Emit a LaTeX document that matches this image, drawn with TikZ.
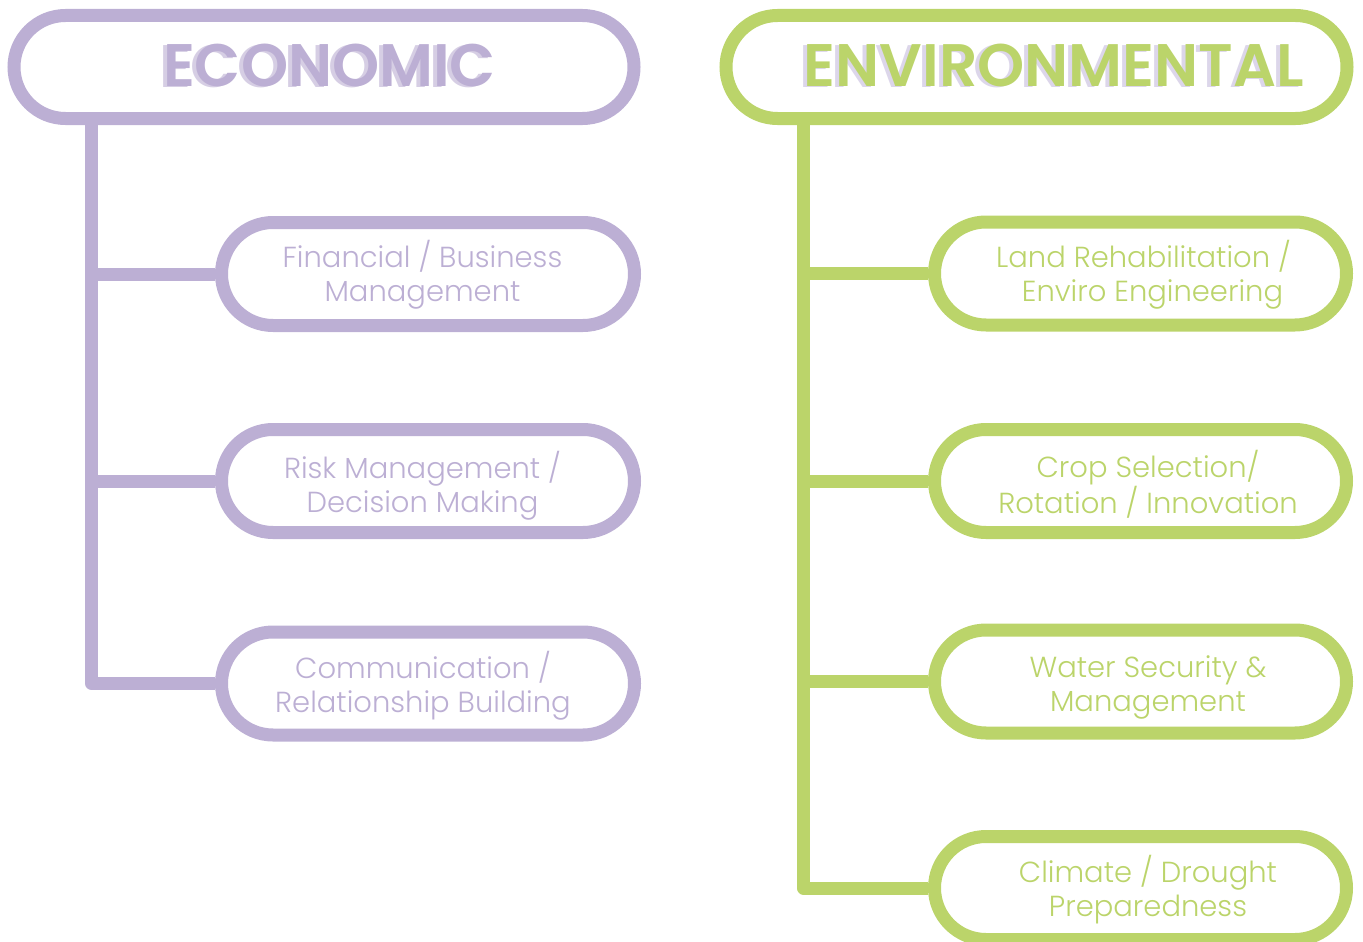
\documentclass[tikz,border=0pt]{standalone}
\usepackage{fontspec}
\newfontfamily\bodyfont{Poppins}[UprightFont=* Light]
\newfontfamily\titlefont{Poppins}[UprightFont=* SemiBold]
\usetikzlibrary{shapes.misc}
\definecolor{econ}{HTML}{BCAFD4}
\definecolor{econshadow}{HTML}{D6CEE4}
\definecolor{env}{HTML}{BBD46A}
\definecolor{envshadow}{HTML}{DCD6EA}
\newcommand{\shadowed}[2]{\makebox[0pt][l]{\raisebox{-1pt}{\textcolor{#1}{#2}}}\hspace*{4pt}#2}
\tikzset{
  pill/.style={rounded rectangle, draw=#1, line width=13pt, minimum height=103pt, inner sep=0pt, fill=white},
  conn/.style={draw=#1, line width=13pt, line join=round},
  body/.style={font=\bodyfont\fontsize{29}{34}\selectfont, align=center, text=#1, inner sep=0pt},
  titletext/.style={font=\titlefont\fontsize{60}{60}\selectfont, text=#1, anchor=base, inner sep=0pt},
}
\begin{document}
\begin{tikzpicture}[x=1pt,y=-1pt]
\useasboundingbox (0,0) rectangle (1363,942);
% ---------- Economic ----------
\node[pill=econ, minimum width=620pt] (econ) at (324,67) {};
\node[pill=econ, minimum width=413pt] (fin) at (428,274) {};
\node[pill=econ, minimum width=413pt] (risk) at (428,481) {};
\node[pill=econ, minimum width=413pt] (comm) at (428,683.5) {};
\coordinate (etx) at (91.5,0);
\draw[conn=econ] (econ.south -| etx) |- (comm.west);
\draw[conn=econ] (fin.west -| etx) -- (fin.west);
\draw[conn=econ] (risk.west -| etx) -- (risk.west);
\node[titletext=econ] (econt) at (327.5,87) {\shadowed{econshadow}{ECONOMIC}};
\node[body=econ] (fint) at (422.5,275) {Financial / Business\\Management};
\node[body=econ] (riskt) at (422.5,486) {Risk Management /\\Decision Making};
\node[body=econ] (commt) at (423,685.5) {Communication /\\Relationship Building};
% ---------- Environmental ----------
\node[pill=env, minimum width=621pt] (envi) at (1036.5,67) {};
\node[pill=env, minimum width=412pt] (land) at (1140.5,273.5) {};
\node[pill=env, minimum width=412pt] (crop) at (1140.5,481) {};
\node[pill=env, minimum width=412pt] (water) at (1140.5,681.5) {};
\node[pill=env, minimum width=412pt] (clim) at (1140.5,888) {};
\coordinate (gtx) at (803.5,0);
\draw[conn=env] (envi.south -| gtx) |- (clim.west);
\draw[conn=env] (land.west -| gtx) -- (land.west);
\draw[conn=env] (crop.west -| gtx) -- (crop.west);
\draw[conn=env] (water.west -| gtx) -- (water.west);
\node[titletext=env] (envt) at (1052,87) {\shadowed{envshadow}{ENVIRONMENTAL}};
\node[body=env] (landt) at (1148,274.5) {Land Rehabilitation /\hspace*{9pt}\\\hspace*{9pt}Enviro Engineering};
\node[body=env] (cropt) at (1148,484) {Crop Selection/\\Rotation / Innovation};
\node[body=env] (watert) at (1148,687.5) {Water Security \&\\Management};
\node[body=env] (climt) at (1148,890) {Climate / Drought\\Preparedness};
\end{tikzpicture}
\end{document}
